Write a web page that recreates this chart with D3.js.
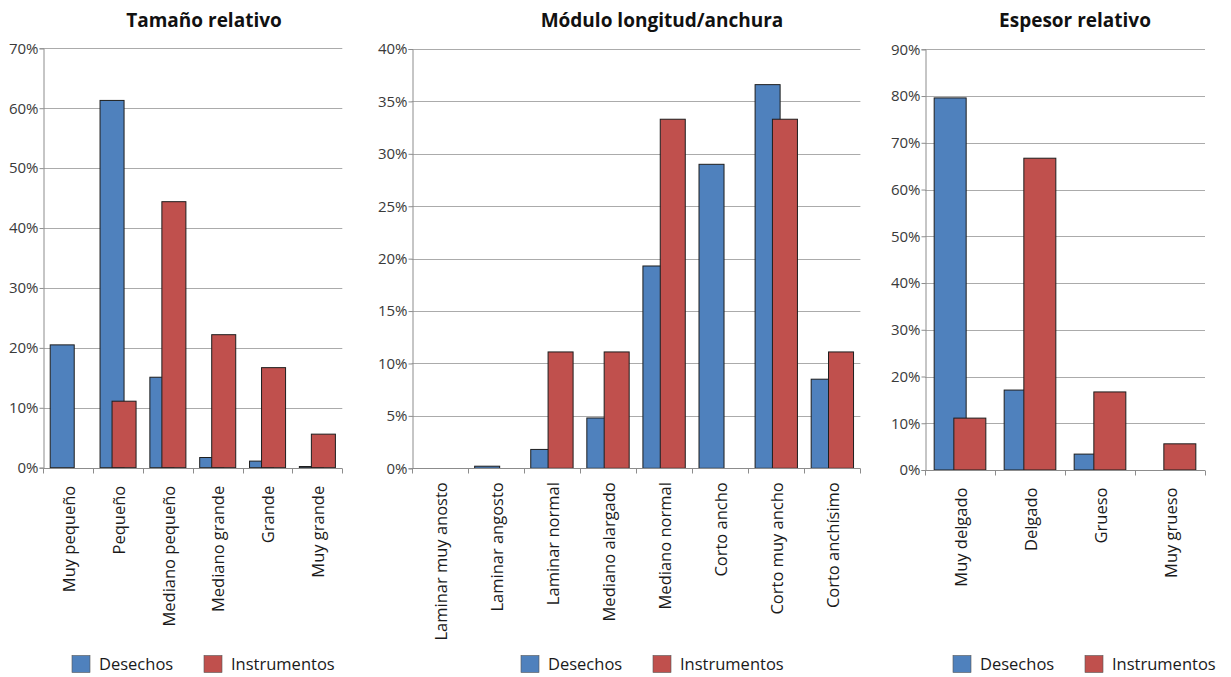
<!DOCTYPE html>
<html>
<head>
<meta charset="utf-8">
<script src="https://cdn.jsdelivr.net/npm/d3@7"></script>
<style>
  html, body { margin: 0; padding: 0; background: #fff; }
  svg { display: block; }
  text { font-family: "Open Sans", "Noto Sans", sans-serif; }
</style>
</head>
<body>
<svg id="chart" width="1231" height="677"></svg>
<script>
// Series names and colours
const seriesNames = ["Desechos", "Instrumentos"];
const seriesColors = ["#4f81bd", "#c0504d"];

// Tamaño relativo (%)
const tamanoCats = ["Muy pequeño", "Pequeño", "Mediano pequeño", "Mediano grande", "Grande", "Muy grande"];
const tamanoDesechos = [20.5, 61.3, 15.1, 1.7, 1.1, 0.2];
const tamanoInstrumentos = [0, 11.1, 44.4, 22.2, 16.7, 5.6];
const tamanoTicks = [0, 10, 20, 30, 40, 50, 60, 70];

// Módulo longitud/anchura (%)
const moduloCats = ["Laminar muy anosto", "Laminar angosto", "Laminar normal", "Mediano alargado", "Mediano normal", "Corto ancho", "Corto muy ancho", "Corto anchísimo"];
const moduloDesechos = [0, 0.2, 1.8, 4.8, 19.3, 29.0, 36.6, 8.5];
const moduloInstrumentos = [0, 0, 11.1, 11.1, 33.3, 0, 33.3, 11.1];
const moduloTicks = [0, 5, 10, 15, 20, 25, 30, 35, 40];

// Espesor relativo (%)
const espesorCats = ["Muy delgado", "Delgado", "Grueso", "Muy grueso"];
const espesorDesechos = [79.6, 17.1, 3.4, 0];
const espesorInstrumentos = [11.1, 66.7, 16.7, 5.6];
const espesorTicks = [0, 10, 20, 30, 40, 50, 60, 70, 80, 90];

const svg = d3.select("#chart");

function drawPanel(cfg) {
  const g = svg.append("g");
  const x = d3.scaleBand().domain(cfg.cats).range([cfg.x0, cfg.x1]).padding(0);
  const y = d3.scaleLinear().domain([0, d3.max(cfg.ticks)]).range([cfg.y1, cfg.y0]);
  const bw = x.bandwidth();
  const barW = bw * cfg.barFrac;
  const step = bw * cfg.stepFrac;
  const groupW = barW + step;
  const pad = (bw - groupW) / 2;

  // title
  g.append("text")
    .attr("x", cfg.titleX).attr("y", 27)
    .attr("text-anchor", "middle")
    .attr("font-size", 19).attr("font-weight", "bold").attr("fill", "#111")
    .text(cfg.title);

  // gridlines
  g.selectAll("line.grid").data(cfg.ticks.filter(t => t > 0)).join("line")
    .attr("x1", cfg.x0).attr("x2", cfg.x1)
    .attr("y1", d => Math.round(y(d)) + 0.5).attr("y2", d => Math.round(y(d)) + 0.5)
    .attr("stroke", "#ababab").attr("stroke-width", 1);

  // y axis
  const yAxis = d3.axisLeft(y).tickValues(cfg.ticks).tickSize(4).tickFormat(d => d + "%");
  const ya = g.append("g").attr("transform", `translate(${Math.round(cfg.x0) + 0.5},0)`).call(yAxis);
  ya.select(".domain").attr("stroke", "#8c8c8c");
  ya.selectAll(".tick line").attr("stroke", "#8c8c8c");
  ya.selectAll(".tick text").attr("font-size", 15).attr("fill", "#3a3a3a")
    .attr("font-family", "'Open Sans', sans-serif").attr("x", -5);

  // bars (second series drawn on top where they overlap)
  const series = [cfg.desechos, cfg.instrumentos];
  series.forEach((vals, si) => {
    g.selectAll(null).data(cfg.cats).join("rect")
      .attr("x", (c) => x(c) + pad + si * step)
      .attr("width", barW)
      .attr("y", (c, i) => y(vals[i]))
      .attr("height", (c, i) => y(0) - y(vals[i]))
      .attr("fill", seriesColors[si])
      .attr("stroke", (c, i) => vals[i] > 0 ? "#1e1e1e" : "none")
      .attr("stroke-width", 1);
  });

  // x axis
  const xa = g.append("g").attr("transform", `translate(0,${Math.round(cfg.y1) + 0.5})`);
  xa.append("line").attr("x1", cfg.x0).attr("x2", cfg.x1).attr("stroke", "#8c8c8c");
  const bounds = cfg.cats.map(c => x(c)).concat([cfg.x1]);
  xa.selectAll("line.tk").data(bounds).join("line")
    .attr("x1", d => Math.round(d) + 0.5).attr("x2", d => Math.round(d) + 0.5)
    .attr("y1", 0).attr("y2", 5).attr("stroke", "#8c8c8c");
  xa.selectAll("text").data(cfg.cats).join("text")
    .attr("transform", c => `translate(${x(c) + bw / 2 + 1},${cfg.labelTop - cfg.y1}) rotate(-90)`)
    .attr("text-anchor", "end").attr("dy", "0.35em")
    .attr("font-size", 16.5).attr("fill", "#1a1a1a")
    .text(c => c);

  // legend
  const lg = g.append("g");
  seriesNames.forEach((name, si) => {
    lg.append("rect")
      .attr("x", cfg.legendX[si]).attr("y", 655.5).attr("width", 18).attr("height", 17)
      .attr("fill", seriesColors[si]).attr("stroke", "#555").attr("stroke-width", 0.6);
    lg.append("text")
      .attr("x", cfg.legendX[si] + 27).attr("y", 664).attr("dy", "0.35em")
      .attr("font-size", 16.5).attr("fill", "#1a1a1a")
      .text(name);
  });
}

drawPanel({
  title: "Tamaño relativo", titleX: 204,
  cats: tamanoCats, desechos: tamanoDesechos, instrumentos: tamanoInstrumentos, ticks: tamanoTicks,
  x0: 43.3, x1: 342.3, y0: 48.3, y1: 467.7,
  barFrac: 0.482, stepFrac: 0.241, labelTop: 485,
  legendX: [72, 204]
});

drawPanel({
  title: "Módulo longitud/anchura", titleX: 662,
  cats: moduloCats, desechos: moduloDesechos, instrumentos: moduloInstrumentos, ticks: moduloTicks,
  x0: 411.7, x1: 860.4, y0: 49, y1: 468.3,
  barFrac: 0.446, stepFrac: 0.309, labelTop: 482,
  legendX: [521, 653]
});

drawPanel({
  title: "Espesor relativo", titleX: 1075,
  cats: espesorCats, desechos: espesorDesechos, instrumentos: espesorInstrumentos, ticks: espesorTicks,
  x0: 925, x1: 1205, y0: 49.3, y1: 470,
  barFrac: 0.457, stepFrac: 0.281, labelTop: 487,
  legendX: [953, 1085]
});
</script>
</body>
</html>
